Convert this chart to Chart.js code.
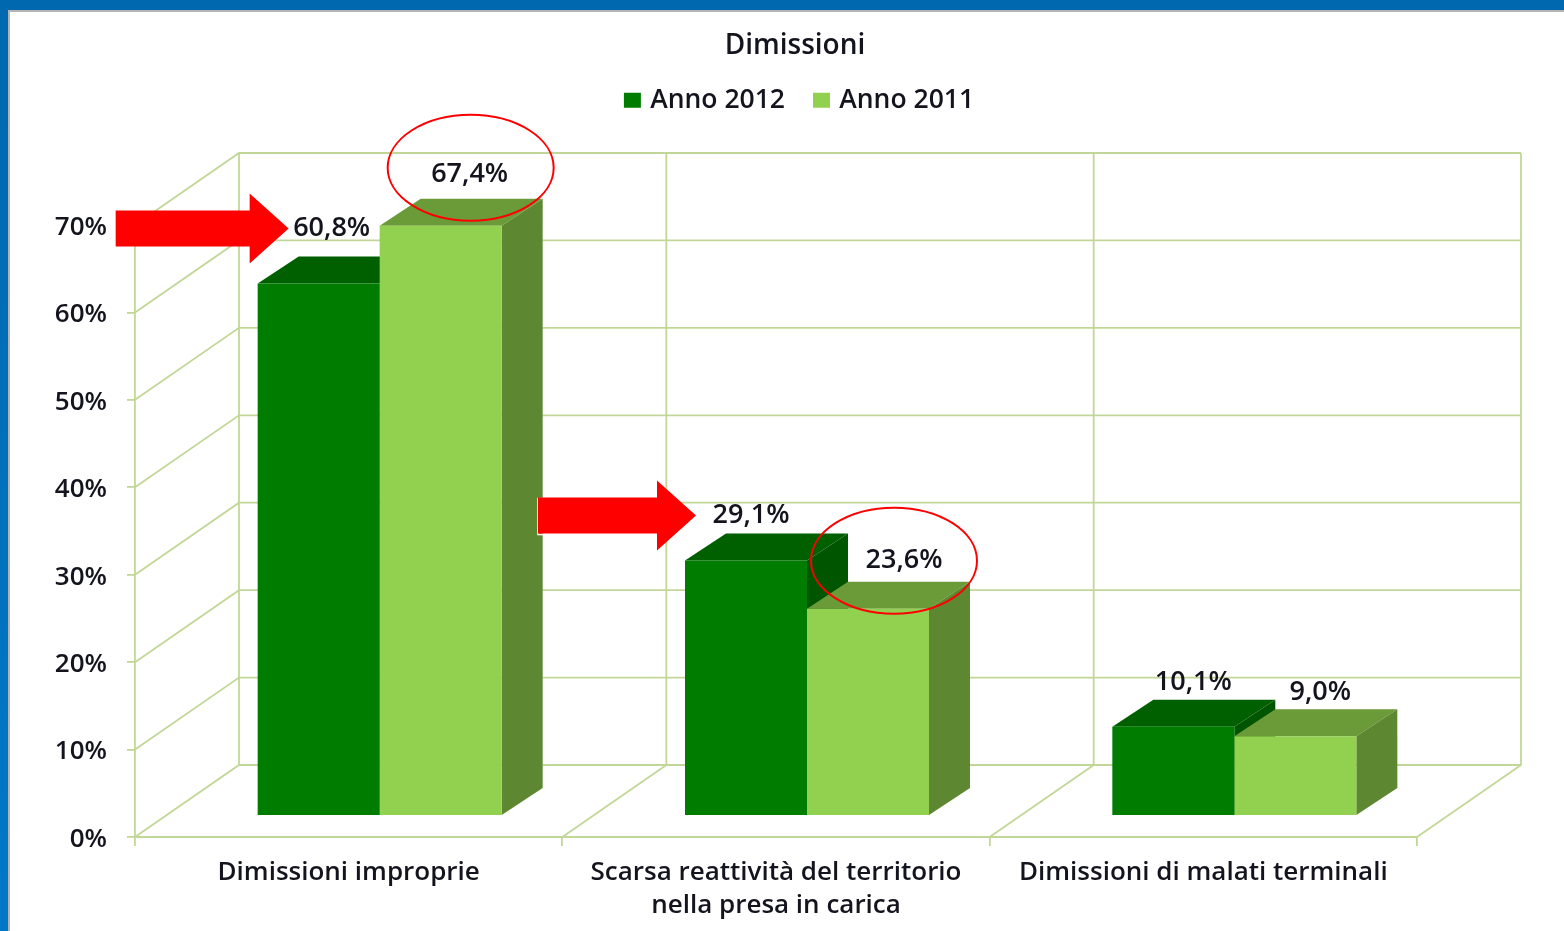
<!DOCTYPE html>
<html lang="it">
<head>
<meta charset="utf-8">
<title>Dimissioni</title>
<script src="https://cdn.jsdelivr.net/npm/chart.js@4/dist/chart.umd.min.js"></script>
<style>
  html, body { margin: 0; height: 100%; overflow: hidden; }
  body { background: linear-gradient(#0068ae, #0078c8); }
  #panel {
    position: absolute; left: 8px; top: 10px; right: 0; bottom: 0;
    background: #fff; border-left: 2px solid #b4b4b4; border-top: 2px solid #b4b4b4;
  }
  #chart { position: absolute; left: 0; top: 0; }
</style>
</head>
<body>
<div id="panel"></div>
<canvas id="chart" width="1564" height="931"></canvas>
<script>
const categories = [
  "Dimissioni improprie",
  ["Scarsa reattività del territorio", "nella presa in carica"],
  "Dimissioni di malati terminali",
];
const anno2012 = [60.8, 29.1, 10.1];
const anno2011 = [67.4, 23.6, 9.0];
const yTicks = [0, 10, 20, 30, 40, 50, 60, 70];

// Hand placement of the value labels, relative to each bar's centre and top
const labelNudge2012 = [[13, -58], [5, -48], [20, -47]];
const labelNudge2011 = [[29, -54], [36, -51], [25, -47]];

const FONT = "'Open Sans', sans-serif";
const TEXT = "#14141e";
const GRID = "#c2d797";

// 3D look: room depth, bar depth, and where the bars stand on the floor
const ROOM_DX = 104;
const ROOM_DY = 72;
const BAR_DX = 41;
const BAR_DY = 27;
const BAR_SHIFT_X = 31;
const FLOOR_LIFT = 2.52; // in axis units

const faceColors = [
  { top: "#006000", side: "#005500" },
  { top: "#6b9a38", side: "#5d8730" },
];

function poly(ctx, pts, fill) {
  ctx.beginPath();
  pts.forEach((p, i) => (i ? ctx.lineTo(p[0], p[1]) : ctx.moveTo(p[0], p[1])));
  ctx.closePath();
  ctx.fillStyle = fill;
  ctx.fill();
}

// Empty layout box, reserves room around the plot area
function spacer(position, size, weight, fullSize) {
  return {
    position, weight, fullSize,
    options: {},
    isHorizontal() { return position === "top" || position === "bottom"; },
    update(maxWidth, maxHeight) {
      this.width = this.isHorizontal() ? maxWidth : size;
      this.height = this.isHorizontal() ? size : maxHeight;
    },
    draw() {},
  };
}

const roomPlugin = {
  id: "room",
  beforeInit(chart) {
    Chart.layouts.addBox(chart, spacer("right", 147, 10, false));
    Chart.layouts.addBox(chart, spacer("top", 101.5, 0, false));
  },
  afterLayout(chart) {
    // legend sits a little right of the title
    chart.legend.left += 6;
    chart.legend.right += 6;
  },
  beforeDatasetsDraw(chart) {
    const { ctx, chartArea: area, scales } = chart;
    const y = scales.y;
    const band = area.width / categories.length;
    ctx.save();
    ctx.strokeStyle = GRID;
    ctx.lineWidth = 1.8;
    ctx.beginPath();
    yTicks.forEach((t) => {
      const py = y.getPixelForValue(t);
      ctx.moveTo(area.left, py);
      ctx.lineTo(area.left + ROOM_DX, py - ROOM_DY);
      ctx.lineTo(area.right + ROOM_DX, py - ROOM_DY);
    });
    for (let i = 0; i <= categories.length; i++) {
      const px = area.left + band * i;
      ctx.moveTo(px, area.bottom);
      ctx.lineTo(px + ROOM_DX, area.bottom - ROOM_DY);
      ctx.lineTo(px + ROOM_DX, area.top - ROOM_DY);
    }
    ctx.stroke();

    // top and side faces of all bars, left series first; the fronts come after from the library
    ctx.translate(BAR_SHIFT_X, 0);
    chart.data.datasets.forEach((ds, index) => {
      const colors = faceColors[index];
      chart.getDatasetMeta(index).data.forEach((bar) => {
        const l = bar.x - bar.width / 2;
        const r = bar.x + bar.width / 2;
        poly(ctx, [[l, bar.y], [r, bar.y], [r + BAR_DX, bar.y - BAR_DY], [l + BAR_DX, bar.y - BAR_DY]], colors.top);
        poly(ctx, [[r, bar.y], [r + BAR_DX, bar.y - BAR_DY], [r + BAR_DX, bar.base - BAR_DY], [r, bar.base]], colors.side);
      });
    });
    ctx.restore();
  },
  // fronts are shifted sideways so the bars stand in the middle of the floor
  beforeDatasetDraw(chart) {
    chart.ctx.save();
    chart.ctx.translate(BAR_SHIFT_X, 0);
  },
  afterDatasetDraw(chart) {
    chart.ctx.restore();
  },
  afterDatasetsDraw(chart) {
    const { ctx } = chart;
    const spot = (ds, i, nudges) => {
      const bar = chart.getDatasetMeta(ds).data[i];
      return [bar.x + BAR_SHIFT_X + nudges[i][0], bar.y + nudges[i][1]];
    };

    ctx.save();
    ctx.font = "600 27px " + FONT;
    ctx.fillStyle = TEXT;
    ctx.textAlign = "center";
    ctx.textBaseline = "middle";
    [[anno2012, labelNudge2012], [anno2011, labelNudge2011]].forEach(([values, nudges], ds) => {
      values.forEach((v, i) => {
        const [x, y] = spot(ds, i, nudges);
        ctx.fillText(v.toFixed(1).replace(".", ",") + "%", x, y + 3);
      });
    });

    // arrows point at the 2012 labels of the first two groups
    const arrow = (x, y, tailLength) => {
      poly(ctx, [
        [x, y], [x - 39, y - 35], [x - 39, y - 18], [x - tailLength, y - 18],
        [x - tailLength, y + 18], [x - 39, y + 18], [x - 39, y + 35],
      ], "#ff0000");
    };
    let [lx, ly] = spot(0, 0, labelNudge2012);
    arrow(lx - 43, ly + 3, 173);
    [lx, ly] = spot(0, 1, labelNudge2012);
    ctx.strokeStyle = "#ffffff";
    ctx.lineWidth = 1.5;
    ctx.strokeRect(lx - 213, ly - 14, 122, 36);
    arrow(lx - 55, ly + 3, 158);

    // circled 2011 labels
    ctx.strokeStyle = "#ff0000";
    ctx.lineWidth = 2;
    const ring = (x, y) => {
      ctx.beginPath();
      ctx.ellipse(x, y, 83, 53, 0, 0, Math.PI * 2);
      ctx.stroke();
    };
    [lx, ly] = spot(1, 0, labelNudge2011);
    ring(lx + 1, ly - 4);
    [lx, ly] = spot(1, 1, labelNudge2011);
    ring(lx - 10, ly + 3);
    ctx.restore();
  },
};

new Chart(document.getElementById("chart"), {
  type: "bar",
  data: {
    labels: categories,
    datasets: [
      { label: "Anno 2012", data: anno2012, backgroundColor: "#007d00", yAxisID: "yBars", clip: false },
      { label: "Anno 2011", data: anno2011, backgroundColor: "#92d050", yAxisID: "yBars", clip: false },
    ],
  },
  plugins: [roomPlugin],
  options: {
    responsive: false,
    animation: false,
    categoryPercentage: 0.571,
    barPercentage: 1,
    layout: { padding: { left: 26, right: 0, top: 0, bottom: 0 } },
    plugins: {
      tooltip: { enabled: false },
      title: {
        display: true,
        text: "Dimissioni",
        color: TEXT,
        font: { family: FONT, size: 28, weight: "600", lineHeight: 0.643 },
        padding: { top: 37, bottom: 0 },
      },
      legend: {
        position: "top",
        labels: {
          color: TEXT,
          font: { family: FONT, size: 26.5, weight: "600" },
          boxWidth: 9,
          boxHeight: 7,
          padding: 32,
          // thick outline in the fill colour brings the swatch closer to its text
          generateLabels(chart) {
            return Chart.defaults.plugins.legend.labels.generateLabels(chart).map((item) => ({
              ...item,
              strokeStyle: item.fillStyle,
              lineWidth: 8,
            }));
          },
        },
      },
    },
    scales: {
      x: {
        afterFit(scale) { scale.height = 94; },
        grid: { drawOnChartArea: false, tickLength: 9, color: GRID, lineWidth: 1.8 },
        border: { color: GRID, width: 2 },
        ticks: {
          color: TEXT, padding: 10, maxRotation: 0, autoSkip: false,
          font: { family: FONT, size: 26, weight: "600", lineHeight: 1.27 },
        },
      },
      y: {
        position: "left",
        min: 0,
        max: 70,
        afterFit(scale) { scale.width = 109; },
        afterBuildTicks(scale) { scale.ticks = yTicks.map((value) => ({ value })); },
        grid: { drawOnChartArea: false, tickLength: 8, color: GRID, lineWidth: 1.8 },
        border: { color: GRID, width: 1.8 },
        ticks: {
          color: TEXT, padding: 20,
          // blank first line with a small line height drops the digits onto the tick
          font: { family: FONT, size: 26, weight: "600", lineHeight: "5px" },
          callback: (v) => ["", v + "%"],
        },
      },
      yBars: {
        display: false,
        min: -FLOOR_LIFT,
        max: 70 - FLOOR_LIFT,
      },
    },
  },
});
</script>
</body>
</html>
